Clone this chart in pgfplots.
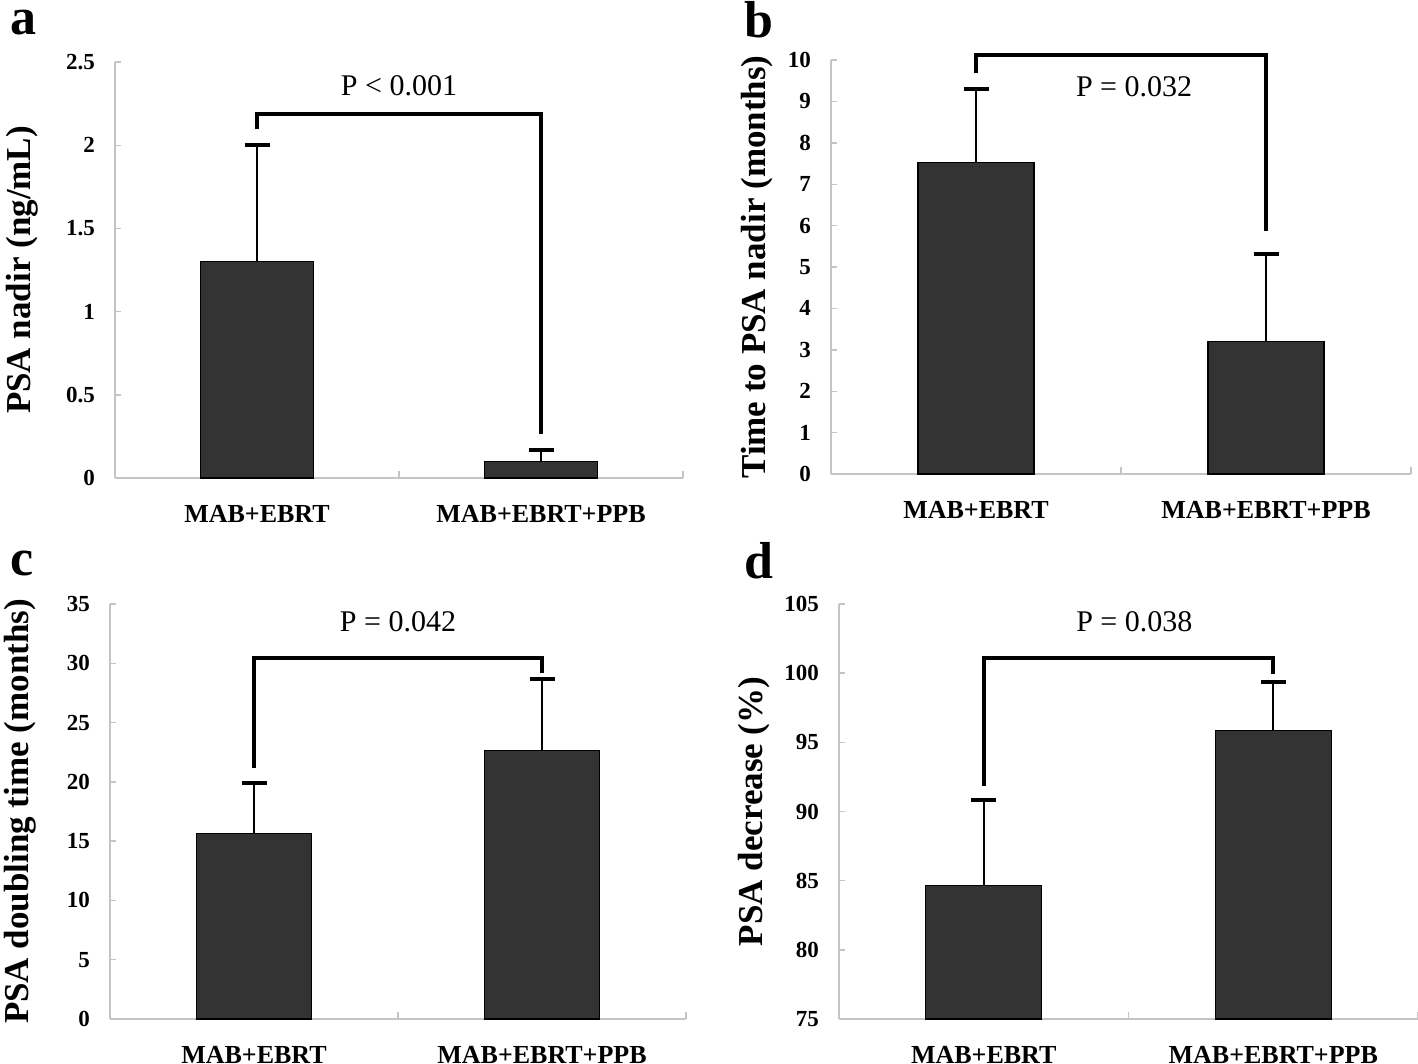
\documentclass[border=0pt]{standalone}
\usepackage{fontspec}
\usepackage{pgfplots}
\pgfplotsset{compat=1.18}
\setmainfont{Liberation Serif}
\definecolor{barcol}{HTML}{333333}
\definecolor{axgray}{HTML}{C4C4C4}
\newcommand{\tickfont}{\fontsize{11.5}{13}\selectfont\bfseries}
\newcommand{\catfont}{\fontsize{13}{15}\selectfont\bfseries}
\newcommand{\pfont}{\fontsize{15}{17}\selectfont}
\newcommand{\letfont}{\fontsize{26}{28}\selectfont\bfseries}
\newcommand{\ylab}[1]{{\fontsize{17.5}{19}\selectfont\bfseries #1}}
\pgfplotsset{
  panel/.style={
    scale only axis,
    axis x line=bottom, axis y line=left,
    axis line style={draw=axgray, line width=0.7pt, -},
    tick align=inside,
    xmin=-0.5, xmax=1.5,
    xtick={0,1}, xticklabels={MAB+EBRT, MAB+EBRT+PPB},
    major x tick style={draw=none},
    minor xtick={0.5,1.5},
    minor tick length=3.5pt,
    major tick length=3pt,
    tick style={draw=axgray, line width=0.7pt},
    xticklabel style={font=\catfont, yshift=-10pt},
    yticklabel style={font=\tickfont, xshift=-6.5pt},
    /pgf/number format/assume math mode=true,
    every axis y label/.style={rotate=90, anchor=center},
  },
  bars/.style={ybar, bar width=0.4, fill=barcol, draw=black, line width=0.6pt,
    error bars/.cd, y dir=plus, y explicit,
    error bar style={line width=0.8pt, black},
    error mark=|, error mark options={line width=2pt, mark size=6.25pt, black}},
  bracket/.style={black, line width=2pt, mark=none, line join=miter},
}
\begin{document}
\begin{tikzpicture}
\useasboundingbox (0pt,0pt) rectangle (709pt,-532pt);
% panel a
\begin{axis}[panel, at={(57.5pt,-239pt)}, anchor=south west,
  width=284pt, height=208pt, clip=false,
  ymin=0, ymax=2.5, ytick={0,0.5,1,1.5,2,2.5},
  yticklabels={0,0.5,1,1.5,2,2.5},
  ylabel={\ylab{PSA nadir (ng/mL)}},
  ylabel style={at={(axis description cs:-0.164,0.5)}}]
\addplot[bars] coordinates {(0,1.30) +- (0,0.70) (1,0.10) +- (0,0.066)};
\addplot[bracket] coordinates {(0,2.095) (0,2.187) (1,2.187) (1,0.266)};
\node[font=\pfont] at (axis cs:0.5,2.36) {P < 0.001};
\end{axis}
% panel b
\begin{axis}[panel, at={(415.5pt,-237pt)}, anchor=south west,
  width=290pt, height=207pt, clip=false,
  ymin=0, ymax=10, ytick={0,1,...,10},
  ylabel={\ylab{Time to PSA nadir (months)}},
  ylabel style={at={(axis description cs:-0.128,0.5)}}]
\addplot[bars] coordinates {(0,7.52) +- (0,1.78) (1,3.21) +- (0,2.11)};
\addplot[bracket] coordinates {(0,9.69) (0,10.11) (1,10.11) (1,5.86)};
\node[font=\pfont] at (axis cs:0.545,9.36) {P = 0.032};
\end{axis}
% panel c
\begin{axis}[panel, at={(55pt,-509.5pt)}, anchor=south west,
  width=288pt, height=207.5pt, clip=false,
  ymin=0, ymax=35, ytick={0,5,...,35},
  ylabel={\ylab{PSA doubling time (months)}},
  ylabel style={at={(axis description cs:-0.156,0.5)}}]
\addplot[bars] coordinates {(0,15.62) +- (0,4.28) (1,22.65) +- (0,6.03)};
\addplot[bracket] coordinates {(0,21.19) (0,30.46) (1,30.46) (1,29.17)};
\node[font=\pfont] at (axis cs:0.5,33.5) {P = 0.042};
\end{axis}
% panel d
\begin{axis}[panel, at={(419.5pt,-509.5pt)}, anchor=south west,
  width=289.5pt, height=207.5pt,
  ymin=75, ymax=105, ytick={75,80,...,105},
  ylabel={\ylab{PSA decrease (\%)}},
  ylabel style={at={(axis description cs:-0.147,0.5)}}]
\addplot[bars] coordinates {(0,84.66) +- (0,6.18) (1,95.84) +- (0,3.54)};
\addplot[bracket] coordinates {(0,91.87) (0,101.13) (1,101.13) (1,99.93)};
\node[font=\pfont] at (axis cs:0.52,103.7) {P = 0.038};
\end{axis}
\node[font=\letfont, anchor=base west, inner sep=0pt] at (5pt,-17.5pt) {a};
\node[font=\letfont, anchor=base west, inner sep=0pt] at (372pt,-19pt) {b};
\node[font=\letfont, anchor=base west, inner sep=0pt] at (5pt,-287.5pt) {c};
\node[font=\letfont, anchor=base west, inner sep=0pt] at (372pt,-289pt) {d};
\end{tikzpicture}
\end{document}
